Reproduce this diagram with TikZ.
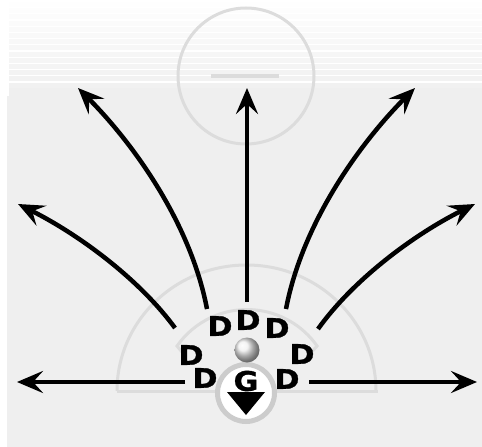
\documentclass[tikz,border=0pt]{standalone}
\usepackage{fontspec}
\usetikzlibrary{arrows.meta}
\newfontfamily\dfont[FakeStretch=1.12,FakeBold=1.2]{DejaVu Sans Bold}
\definecolor{bg}{RGB}{239,239,239}
\definecolor{rink}{RGB}{220,220,220}
\definecolor{ringc}{RGB}{204,204,204}
\begin{document}
\begin{tikzpicture}[x=1pt,y=-1pt,
  dn/.style={font=\dfont\fontsize{27}{27}\selectfont, inner sep=0pt, text=black},
  mv/.style={line width=4.5pt, -{Stealth[length=26pt,width=22pt,inset=10pt]}},
  rinkline/.style={draw=rink, line width=3pt}]
\useasboundingbox (0,0) rectangle (482,447);
% background
\foreach \k in {0,...,13}{
  \pgfmathsetmacro{\yy}{2+6.2*\k}
  \pgfmathsetmacro{\pp}{8+6*\k}
  \fill[bg!\pp!white] (9,\yy) rectangle (482,\yy+5);
}
\fill[bg] (9,88) rectangle (482,96);
\fill[bg] (7,96) rectangle (482,447);
% rink markings
\draw[rinkline] (246,76) circle[radius=68pt];
\draw[draw=rink, line width=3.5pt] (211,76) -- (279,76);
\draw[rinkline] (117,391) arc[start angle=180, end angle=0, x radius=129.5pt, y radius=126pt];
\draw[rinkline] (117,391) -- (378,391);
\coordinate (cl) at (177,346);
\coordinate (cr) at (317,346);
\draw[rinkline, line join=miter] (186,357) -- (cl) arc[start angle=145, end angle=35, radius=85.5pt] -- (309,355);
% arrows
\coordinate (l1s) at (175,328); \coordinate (l1e) at (18,204);
\coordinate (l2s) at (207,309); \coordinate (l2e) at (78,88);
\coordinate (c0s) at (247,302); \coordinate (c0e) at (247,88);
\coordinate (r2s) at (286,309); \coordinate (r2e) at (415,88);
\coordinate (r1s) at (318,329); \coordinate (r1e) at (475,204);
\coordinate (hls) at (185,382); \coordinate (hle) at (17,382);
\coordinate (hrs) at (309,382); \coordinate (hre) at (477,382);
\draw[mv] (l1s) .. controls (140,280) and (80,235) .. (l1e);
\draw[mv] (l2s) .. controls (190,220) and (130,140) .. (l2e);
\draw[mv] (c0s) -- (c0e);
\draw[mv] (r2s) .. controls (303,220) and (363,140) .. (r2e);
\draw[mv] (r1s) .. controls (353,280) and (413,235) .. (r1e);
\draw[mv] (hls) -- (hle);
\draw[mv] (hrs) -- (hre);
% goalie
\node[circle, fill=white, draw=ringc, line width=5pt, minimum size=57pt, inner sep=0pt] (gc) at (246,393) {};
\node[dn] (g) at (246,381) {G};
\fill[black] (227,392) -- (265,392) -- (246,415) -- cycle;
% ball
\shade[ball color=gray!12] (247,350) circle[radius=12.5pt];
\node[inner sep=0pt, minimum size=25pt, circle] (ball) at (247,350) {};
% defenders
\node[dn] (d1) at (220,326) {D};
\node[dn] (d2) at (248,320) {D};
\node[dn] (d3) at (277,328) {D};
\node[dn] (d4) at (191,355) {D};
\node[dn] (d5) at (302,354) {D};
\node[dn] (d6) at (205,378) {D};
\node[dn] (d7) at (287,379) {D};
\end{tikzpicture}
\end{document}
